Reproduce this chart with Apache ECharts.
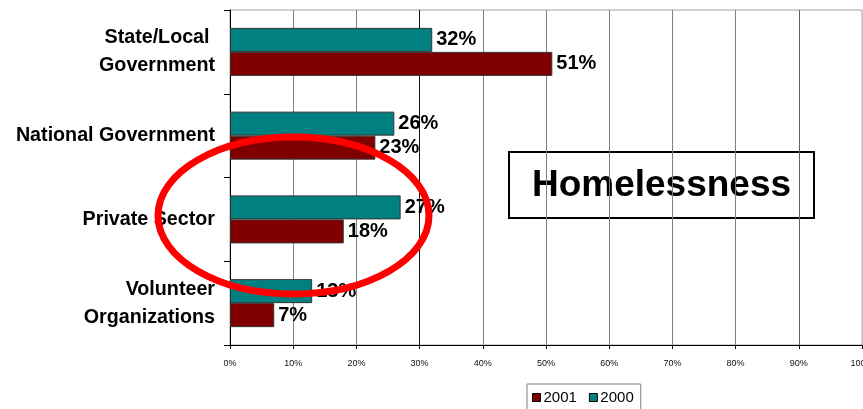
<!DOCTYPE html>
<html>
<head>
<meta charset="utf-8">
<script src="https://cdn.jsdelivr.net/npm/echarts@6/dist/echarts.min.js"></script>
<style>
html,body{margin:0;padding:0;background:#fff;}
#c{width:863px;height:409px;}
</style>
</head>
<body>
<div id="c"></div>
<script>
// Categories listed bottom-to-top (ECharts category y axis starts at bottom)
const categories = ['Volunteer\nOrganizations', 'Private Sector', 'National Government', 'State/Local \nGovernment'];
const values2001 = [7, 18, 23, 51];
const values2000 = [13, 27, 26, 32];
const seriesNames = ['2001', '2000'];
const xTicks = [0, 10, 20, 30, 40, 50, 60, 70, 80, 90, 100];
const boxTitle = 'Homelessness';

const FONT = 'Arial, "Liberation Sans", sans-serif';
const chart = echarts.init(document.getElementById('c'), null, {renderer: 'canvas'});

const labelStyle = {
  show: true, position: 'right', distance: 4,
  formatter: '{c}%', fontFamily: FONT, fontWeight: 'bold', fontSize: 20, color: '#000'
};

chart.setOption({
  animation: false,
  backgroundColor: '#fff',
  grid: {left: 230, right: 1, top: 10, bottom: 64, show: true, borderColor: '#a0a0a0', borderWidth: 1, backgroundColor: 'transparent', containLabel: false, outerBoundsMode: 'none'},
  xAxis: {
    type: 'value', min: xTicks[0], max: xTicks[xTicks.length - 1], interval: 10,
    axisLine: {show: true, lineStyle: {color: '#000', width: 1}},
    axisTick: {show: true, length: 4, lineStyle: {color: '#000'}},
    axisLabel: {formatter: '{value}%', fontFamily: FONT, fontSize: 9, color: '#111', margin: 14, hideOverlap: false},
    splitLine: {show: true, lineStyle: {color: ['#000', '#808080', '#808080', '#111', '#808080', '#808080', '#808080', '#808080', '#808080', '#606060', '#c8c8c8'], width: 1}}
  },
  yAxis: {
    type: 'category', data: categories,
    axisLine: {show: true, lineStyle: {color: '#000', width: 1}},
    axisTick: {show: true, length: 6, alignWithLabel: false, lineStyle: {color: '#000'}},
    axisLabel: {fontFamily: FONT, fontWeight: 'bold', fontSize: 19.7, color: '#000', margin: 15, lineHeight: 28, align: 'right'},
    splitLine: {show: false}
  },
  legend: {
    data: seriesNames,
    left: 527, top: 384,
    orient: 'horizontal',
    icon: 'rect', itemWidth: 8, itemHeight: 8, itemGap: 12,
    padding: [6, 7, 8, 5],
    backgroundColor: '#fff', borderColor: '#808080', borderWidth: 1,
    itemStyle: {borderColor: '#000', borderWidth: 1},
    textStyle: {fontFamily: FONT, fontSize: 15, color: '#000', padding: [0, 0, 0, -2]}
  },
  series: [
    {
      name: seriesNames[1], type: 'bar', data: values2000,
      barWidth: 24, barGap: '0%',
      itemStyle: {color: '#008080', borderColor: '#333', borderWidth: 1},
      label: labelStyle, z: 3
    },
    {
      name: seriesNames[0], type: 'bar', data: values2001,
      barWidth: 24, barGap: '0%',
      itemStyle: {color: '#800000', borderColor: '#333', borderWidth: 1},
      label: labelStyle, z: 3
    }
  ],
  graphic: [
    {
      type: 'group', left: 508, top: 151, z: 10,
      children: [
        {type: 'rect', shape: {x: 0, y: 0, width: 305, height: 66}, style: {fill: '#fff', stroke: '#000', lineWidth: 2}},
        {type: 'text', style: {x: 152.5, y: 34, text: boxTitle, fill: '#000', font: 'bold 37px ' + FONT, textAlign: 'center', textVerticalAlign: 'middle'}}
      ]
    },
    {
      type: 'ellipse', z: 100,
      shape: {cx: 293.5, cy: 215.5, rx: 135.5, ry: 78.5},
      style: {fill: 'none', stroke: '#ff0000', lineWidth: 7}
    }
  ]
});
</script>
</body>
</html>
